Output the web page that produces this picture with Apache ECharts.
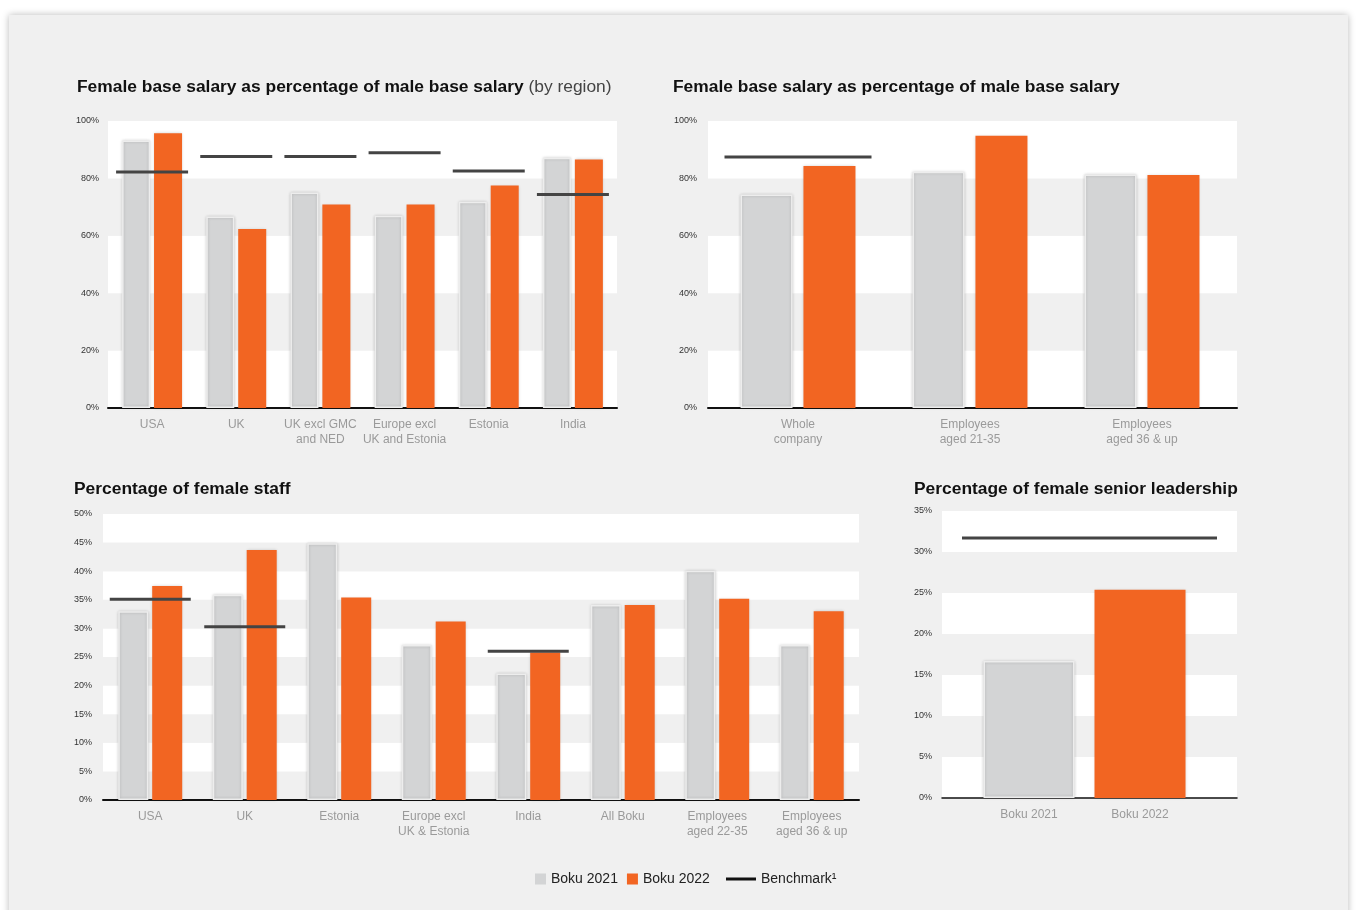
<!DOCTYPE html>
<html>
<head>
<meta charset="utf-8">
<script src="https://cdn.jsdelivr.net/npm/echarts@6/dist/echarts.min.js"></script>
<style>
  html, body { margin: 0; padding: 0; background: #ffffff; width: 1356px; height: 910px; overflow: hidden; }
  #panel { position: absolute; left: 9px; top: 15px; width: 1339px; height: 910px; background: #f0f0f0;
           box-shadow: 0 0 7px rgba(0,0,0,0.28); }
  #chart { position: absolute; left: 0; top: 0; width: 1356px; height: 910px; }
</style>
</head>
<body>
<div id="panel"></div>
<div id="chart"></div>
<script>
// ---- Chart 1: female base salary as % of male base salary (by region)
const cat1 = ['USA', 'UK', 'UK excl GMC\nand NED', 'Europe excl\nUK and Estonia', 'Estonia', 'India'];
const salaryRegion2021 = [93.2, 66.7, 75.1, 67.0, 71.9, 87.2];
const salaryRegion2022 = [95.7, 62.4, 70.9, 70.9, 77.5, 86.6];
const salaryRegionBench = [82.2, 87.6, 87.6, 88.9, 82.6, 74.4];

// ---- Chart 2: female base salary as % of male base salary
const cat2 = ['Whole\ncompany', 'Employees\naged 21-35', 'Employees\naged 36 & up'];
const salaryAge2021 = [74.4, 82.3, 81.4];
const salaryAge2022 = [84.3, 94.9, 81.2];
const salaryAgeBench = [87.5, null, null];

// ---- Chart 3: percentage of female staff
const cat3 = ['USA', 'UK', 'Estonia', 'Europe excl\nUK & Estonia', 'India', 'All Boku', 'Employees\naged 22-35', 'Employees\naged 36 & up'];
const staff2021 = [33.0, 35.9, 44.9, 27.1, 22.1, 34.1, 40.1, 27.1];
const staff2022 = [37.4, 43.7, 35.4, 31.2, 25.8, 34.1, 35.2, 33.0];
const staffBench = [35.1, 30.3, null, null, 26.0, null, null, null];

// ---- Chart 4: percentage of female senior leadership
const cat4 = ['Boku 2021', 'Boku 2022'];
const leader2021 = [16.7, null];
const leader2022 = [null, 25.4];
const leaderBench = [31.7];

// ---- axis ranges / ticks
const yTicks1 = { min: 0, max: 100, interval: 20 };
const yTicks2 = { min: 0, max: 100, interval: 20 };
const yTicks3 = { min: 0, max: 50, interval: 5 };
const yTicks4 = { min: 0, max: 35, interval: 5 };

const FONT = 'Liberation Sans, Arial, sans-serif';
const GREY = '#d3d4d5';
const ORANGE = '#f26522';
const BENCH = '#444444';
const PANEL = '#f0f0f0';
const nz = a => a.map(v => (v === null ? '-' : v));

const greyStyle = { color: GREY, borderColor: '#ededed', borderWidth: 1.5, shadowColor: 'rgba(0,0,0,0.18)', shadowBlur: 3 };
const orangeStyle = { color: ORANGE, shadowColor: 'rgba(0,0,0,0.18)', shadowBlur: 3 };

function yAxis(gi, t, colors, margin, show) {
  return {
    type: 'value', gridIndex: gi, min: t.min, max: t.max, interval: t.interval,
    show: show !== false,
    axisLine: { show: false }, axisTick: { show: false }, splitLine: { show: false },
    splitArea: { show: !!colors, areaStyle: { color: colors || ['#fff'] } },
    axisLabel: { formatter: '{value}%', fontSize: 9, color: '#333', margin: margin, fontFamily: FONT }
  };
}
function xAxis(gi, data, lineW, showLabel, showLine) {
  return {
    type: 'category', gridIndex: gi, data: data,
    axisLine: { show: showLine !== false, onZero: false, lineStyle: { color: '#111', width: lineW } },
    axisTick: { show: false },
    axisLabel: { show: showLabel !== false, fontSize: 12, color: '#9a9a9a', lineHeight: 15, margin: 9, fontFamily: FONT, interval: 0 }
  };
}
function bars(name, xi, data, style, width, gap) {
  return { type: 'bar', name: name, xAxisIndex: xi, yAxisIndex: xi, data: nz(data), barWidth: width, barGap: gap,
           itemStyle: style, z: 3, animation: false };
}
function bench(xi, data, w) {
  return { type: 'scatter', name: 'Benchmark', xAxisIndex: xi, yAxisIndex: xi, data: nz(data),
           symbol: 'rect', symbolSize: [w, 3], itemStyle: { color: BENCH, opacity: 1 }, z: 6, animation: false };
}

const titleRich = {
  b: { fontSize: 17.4, fontWeight: 'bold', color: '#111', fontFamily: FONT },
  n: { fontSize: 17.4, fontWeight: 'normal', color: '#444', fontFamily: FONT }
};
function title(text, left, top) {
  return { text: text, left: left, top: top, padding: 0,
           textStyle: { rich: titleRich, fontSize: 17.4, fontWeight: 'bold', color: '#111', fontFamily: FONT } };
}

const WB = ['#ffffff', PANEL];
const BW = [PANEL, '#ffffff'];

const option = {
  backgroundColor: 'transparent',
  animation: false,
  textStyle: { fontFamily: FONT },
  title: [
    title('{b|Female base salary as percentage of male base salary} {n|(by region)}', 77, 79),
    title('{b|Female base salary as percentage of male base salary}', 673, 79),
    title('{b|Percentage of female staff}', 74, 481),
    title('{b|Percentage of female senior leadership}', 914, 481)
  ],
  legend: [
    { data: [{ name: 'Boku 2021', itemStyle: { color: GREY, borderWidth: 0, shadowBlur: 0 } },
             { name: 'Boku 2022', itemStyle: { color: ORANGE, borderWidth: 0, shadowBlur: 0 } }],
      left: 530, top: 867, icon: 'rect', itemWidth: 11, itemHeight: 11, itemGap: 9,
      textStyle: { fontSize: 14, color: '#222', fontFamily: FONT } },
    { data: [{ name: 'Benchmark', itemStyle: { color: '#111' } }],
      left: 721, top: 867, icon: 'rect', itemWidth: 30, itemHeight: 3, formatter: 'Benchmark\u00b9',
      textStyle: { fontSize: 14, color: '#222', fontFamily: FONT } }
  ],
  grid: [
    { left: 108, top: 121, width: 509, height: 287 },   // 0 chart1 background
    { left: 110, top: 121, width: 505, height: 287 },   // 1 chart1 bars
    { left: 708, top: 121, width: 529, height: 287 },   // 2 chart2 background
    { left: 712, top: 121, width: 516, height: 287 },   // 3 chart2 bars
    { left: 103, top: 514, width: 756, height: 286 },   // 4 chart3
    { left: 942, top: 511, width: 295, height: 287 },   // 5 chart4 background
    { left: 973.5, top: 511, width: 222, height: 287 }  // 6 chart4 bars
  ],
  xAxis: [
    xAxis(0, ['all'], 2, false, true),
    xAxis(1, cat1, 2, true, false),
    xAxis(2, ['all'], 2, false, true),
    xAxis(3, cat2, 2, true, false),
    xAxis(4, cat3, 2),
    xAxis(5, ['all'], 1.5, false, true),
    xAxis(6, cat4, 1.5, true, false)
  ],
  yAxis: [
    yAxis(0, yTicks1, WB, 9),
    yAxis(1, yTicks1, null, 9, false),
    yAxis(2, yTicks2, WB, 11),
    yAxis(3, yTicks2, null, 11, false),
    yAxis(4, yTicks3, BW, 11),
    yAxis(5, yTicks4, WB, 10),
    yAxis(6, yTicks4, null, 10, false)
  ],
  series: [
    bars('Boku 2021', 1, salaryRegion2021, greyStyle, 28, '14%'),
    bars('Boku 2022', 1, salaryRegion2022, orangeStyle, 28, '14%'),
    bench(1, salaryRegionBench, 72),
    bars('Boku 2021', 3, salaryAge2021, greyStyle, 52, '21%'),
    bars('Boku 2022', 3, salaryAge2022, orangeStyle, 52, '21%'),
    bench(3, salaryAgeBench, 147),
    bars('Boku 2021', 4, staff2021, greyStyle, 30, '13%'),
    bars('Boku 2022', 4, staff2022, orangeStyle, 30, '13%'),
    bench(4, staffBench, 81),
    bench(5, leaderBench, 255),
    bars('Boku 2021', 6, leader2021, greyStyle, 91, '-100%'),
    bars('Boku 2022', 6, leader2022, orangeStyle, 91, '-100%')
  ]
};

const chart = echarts.init(document.getElementById('chart'), null, { renderer: 'canvas' });
chart.setOption(option);
</script>
</body>
</html>
